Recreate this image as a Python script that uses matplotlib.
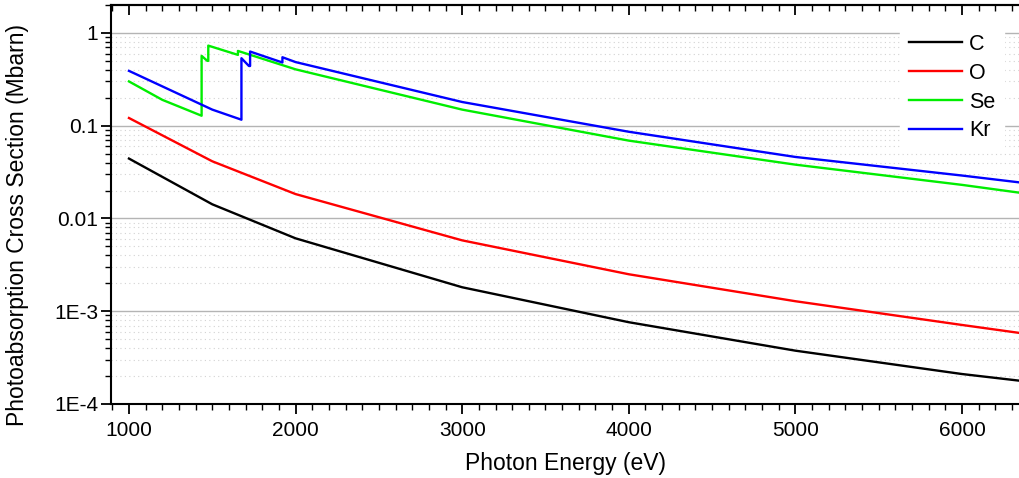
import numpy as np
import matplotlib
matplotlib.use('Agg')
import matplotlib.pyplot as plt
from matplotlib.ticker import FixedLocator, FuncFormatter, LogLocator, MultipleLocator, NullFormatter

plt.rcParams['font.family'] = ['Liberation Sans', 'DejaVu Sans']

# Photon energy (eV) and cross sections (Mbarn)
c_energy = [1000, 1500, 2000, 3000, 4000, 5000, 6000, 7000]
c_sigma = [0.0442, 0.0142, 0.0061, 0.00181, 7.6e-4, 3.75e-4, 2.1e-4, 1.3e-4]

o_energy = [1000, 1500, 2000, 3000, 4000, 5000, 6000, 7000]
o_sigma = [0.121, 0.0413, 0.0183, 0.0058, 0.0025, 0.00128, 7.1e-4, 4.0e-4]

se_energy = [1000, 1200, 1436, 1436, 1470, 1476, 1476, 1654, 1654, 2000, 3000, 4000, 5000, 6000, 7000]
se_sigma = [0.30, 0.19, 0.128, 0.566, 0.50, 0.50, 0.73, 0.58, 0.64, 0.405, 0.149, 0.069, 0.038, 0.023, 0.0131]

kr_energy = [1000, 1500, 1675, 1675, 1720, 1727, 1727, 1921, 1921, 2000, 3000, 4000, 5000, 6000, 7000]
kr_sigma = [0.39, 0.149, 0.116, 0.534, 0.44, 0.44, 0.63, 0.48, 0.547, 0.485, 0.18, 0.086, 0.046, 0.029, 0.0177]

series = [('C', c_energy, c_sigma, '#000000'),
          ('O', o_energy, o_sigma, '#ff0000'),
          ('Se', se_energy, se_sigma, '#00ee00'),
          ('Kr', kr_energy, kr_sigma, '#0000ff')]

y_major = [1e-4, 1e-3, 1e-2, 1e-1, 1]
y_labels = ['1E-4', '1E-3', '0.01', '0.1', '1']

fig = plt.figure(figsize=(10.2, 4.78), dpi=100)
ax = fig.add_axes([0.1088, 0.155, 0.8912, 0.8345])

for name, x, y, col in series:
    ax.plot(x, y, color=col, lw=1.7, label=name)

ax.set_yscale('log')
ax.set_xlim(892, 6348)
ax.set_ylim(1e-4, 2)

ax.yaxis.set_major_locator(FixedLocator(y_major))
ax.yaxis.set_major_formatter(FuncFormatter(lambda v, p: y_labels[y_major.index(v)] if v in y_major else ''))
ax.yaxis.set_minor_locator(LogLocator(base=10, subs=np.arange(2, 10)))
ax.yaxis.set_minor_formatter(NullFormatter())
ax.xaxis.set_major_locator(MultipleLocator(1000))
ax.xaxis.set_minor_locator(MultipleLocator(100))

ax.grid(True, which='major', axis='y', color='#b4b4b4', lw=1.0)
ax.grid(True, which='minor', axis='y', color='#d2d2d2', lw=0.8, ls=(0, (1, 3)))
ax.set_axisbelow(True)

ax.spines['right'].set_visible(False)
for s in ['left', 'bottom', 'top']:
    ax.spines[s].set_linewidth(1.5)

ax.tick_params(axis='both', which='major', labelsize=15, width=1.3, length=7, direction='out')
ax.tick_params(axis='both', which='minor', width=1.0, length=4, direction='out')
ax.tick_params(axis='y', which='both', right=False, pad=2)
ax.tick_params(axis='x', which='major', pad=5)

top = ax.secondary_xaxis('top')
top.xaxis.set_major_locator(MultipleLocator(1000))
top.xaxis.set_minor_locator(MultipleLocator(100))
top.tick_params(which='major', direction='in', length=7, width=1.3, labeltop=False)
top.tick_params(which='minor', direction='in', length=4, width=1.0)
top.spines['top'].set_linewidth(1.5)

ax.set_xlabel('Photon Energy (eV)', fontsize=16.5, labelpad=9)
ax.set_ylabel('Photoabsorption Cross Section (Mbarn)', fontsize=16.5)
ax.yaxis.set_label_coords(-0.090, 0.449)

leg = ax.legend(loc='upper left', bbox_to_anchor=(0.868, 0.95), frameon=True, fontsize=15.5,
                handlelength=2.5, handletextpad=0.3, labelspacing=0.37, borderpad=0.4,
                borderaxespad=0.0)
leg.get_frame().set_edgecolor('white')
leg.get_frame().set_facecolor('white')
leg.get_frame().set_alpha(1.0)
leg.get_frame().set_boxstyle('square', pad=0.0)

fig.savefig('out.png', dpi=100)
